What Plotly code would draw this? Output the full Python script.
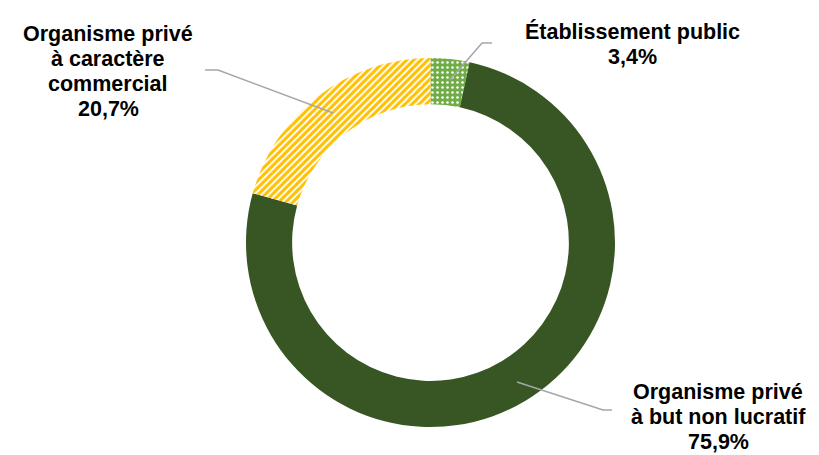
import plotly.graph_objects as go

categories = ["Établissement public", "Organisme privé à but non lucratif", "Organisme privé à caractère commercial"]
values = [3.4, 75.9, 20.7]
label_lines = [["Établissement public", "3,4%"],
               ["Organisme privé", "à but non lucratif", "75,9%"],
               ["Organisme privé", "à caractère", "commercial", "20,7%"]]

W, H = 819, 455
fig = go.Figure()
fig.add_trace(go.Pie(
    labels=categories, values=values, sort=False, direction="clockwise", rotation=0,
    hole=0.75, textinfo="none", hoverinfo="label+value",
    domain=dict(x=[246 / W, 615 / W], y=[1 - 427 / H, 1 - 58 / H]),
    marker=dict(
        colors=["#70AD47", "#375623", "#FFC000"],
        line=dict(width=0),
        pattern=dict(
            shape=[".", "", "/"],
            fgcolor=["#FFFFFF", "#375623", "#FFC000"],
            bgcolor=["#70AD47", "#375623", "#FFFFFF"],
            fillmode="replace",
            size=[5, 8, 5],
            solidity=[0.2, 0.3, 0.6],
        ),
    ),
    showlegend=False,
))

font = dict(family="Liberation Sans, Arial", size=21.5, color="#000000")
ann_pos = [(632, 32), (718, 392), (108, 34)]
step = 25
for lines, (x, y0) in zip(label_lines, ann_pos):
    for i, ln in enumerate(lines):
        fig.add_annotation(x=x / W, y=1 - (y0 + i * step) / H, xref="paper", yref="paper",
                           text="<b>" + ln + "</b>", showarrow=False, font=font,
                           xanchor="center", yanchor="middle")

# leader lines
leaders = [
    [(492, 43), (482, 43), (450, 80)],
    [(517, 382), (603, 410), (612, 410)],
    [(205, 70), (218, 70), (333, 113)],
]
for pts in leaders:
    path = "M " + " L ".join(f"{x / W},{1 - y / H}" for x, y in pts)
    fig.add_shape(type="path", xref="paper", yref="paper", path=path,
                  line=dict(color="#A6A6A6", width=1.5))

fig.update_layout(width=W, height=H, margin=dict(l=0, r=0, t=0, b=0),
                  paper_bgcolor="white", plot_bgcolor="white")
fig.write_html("out.html", config={"displayModeBar": False},
               post_script="document.body.style.margin='0';")
